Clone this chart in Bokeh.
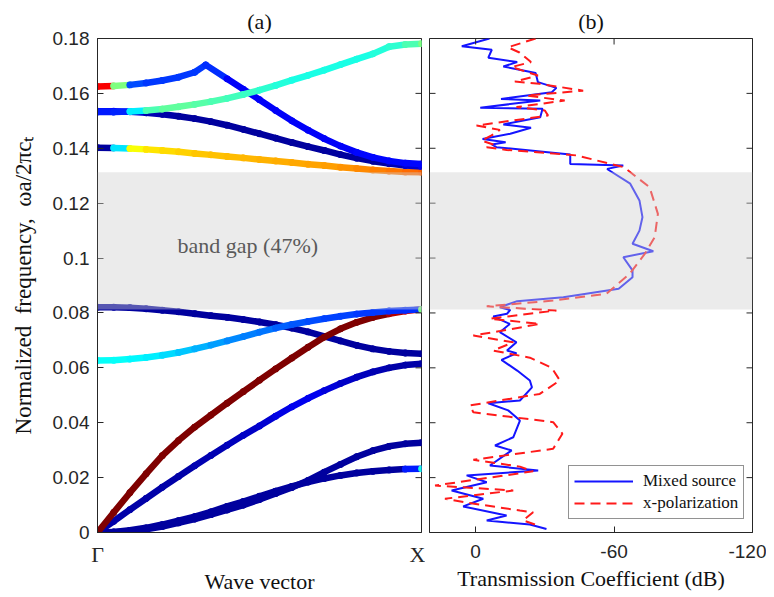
import numpy as np
from bokeh.plotting import figure
from bokeh.layouts import row
from bokeh.models import Range1d, FixedTicker, LinearAxis, BoxAnnotation, Label, Legend
from bokeh.embed import file_html
from bokeh.resources import INLINE

# ---------------- data: panel (a) band structure ----------------
K = [0, 0.05, 0.1, 0.15, 0.2, 0.25, 0.3, 0.35, 0.4, 0.45, 0.5,
     0.55, 0.6, 0.65, 0.7, 0.75, 0.8, 0.85, 0.9, 0.95, 1.0]
B1 = [0, 0.0002, 0.0008, 0.0017, 0.0029, 0.0043, 0.0058, 0.0075, 0.0095, 0.0113, 0.0132,
      0.0151, 0.0168, 0.0184, 0.0197, 0.0208, 0.0217, 0.0223, 0.0228, 0.0231, 0.0232]
C1 = [0.03] * 19 + [0.15, 0.40]
B2 = [0, 0.0001, 0.0005, 0.0012, 0.0022, 0.0035, 0.0049, 0.0065, 0.0082, 0.0100, 0.0120,
      0.0142, 0.0164, 0.0190, 0.0220, 0.0248, 0.0276, 0.0298, 0.0314, 0.0323, 0.0327]
C2 = [0.03] * 21
B3 = [0, 0.0041, 0.0083, 0.0124, 0.0165, 0.0204, 0.0243, 0.0281, 0.0318, 0.0354, 0.0388,
      0.0424, 0.0458, 0.0489, 0.0517, 0.0543, 0.0566, 0.0585, 0.0600, 0.0610, 0.0615]
C3 = [0.04, 0.04, 0.04, 0.04, 0.04, 0.04, 0.05, 0.05, 0.06, 0.07, 0.08,
      0.10, 0.11, 0.11, 0.09, 0.07, 0.06, 0.05, 0.04, 0.04, 0.04]
B4 = [0, 0.0073, 0.0145, 0.0214, 0.0280, 0.0335, 0.0384, 0.0428, 0.0471, 0.0513, 0.0555,
      0.0596, 0.0636, 0.0675, 0.0712, 0.0742, 0.0766, 0.0784, 0.0797, 0.0807, 0.0813]
C4 = [1.0] * 18 + [0.95, 0.9, 0.8]
B5 = [0.0821, 0.0821, 0.0819, 0.0815, 0.0810, 0.0804, 0.0797, 0.0790, 0.0784, 0.0776, 0.0767,
      0.0757, 0.0745, 0.0731, 0.0715, 0.0698, 0.0682, 0.0669, 0.0660, 0.0654, 0.0651]
C5 = [0.03] * 21
B6 = [0.0627, 0.0628, 0.0632, 0.0638, 0.0646, 0.0656, 0.0669, 0.0683, 0.0698, 0.0714, 0.0730,
      0.0745, 0.0758, 0.0769, 0.0779, 0.0788, 0.0796, 0.0802, 0.0807, 0.0810, 0.0813]
C6 = [0.38, 0.38, 0.37, 0.36, 0.34, 0.32, 0.30, 0.28, 0.26, 0.25, 0.24,
      0.22, 0.21, 0.20, 0.19, 0.19, 0.18, 0.18, 0.17, 0.17, 0.50]
B7 = [0.1402, 0.1401, 0.1399, 0.1396, 0.1392, 0.1387, 0.1381, 0.1376, 0.1370, 0.1365, 0.1359,
      0.1354, 0.1348, 0.1342, 0.1337, 0.1331, 0.1326, 0.1321, 0.1317, 0.1314, 0.1313]
C7 = [0.03, 0.35, 0.62, 0.65, 0.66, 0.67, 0.68, 0.685, 0.69, 0.695, 0.70,
      0.705, 0.71, 0.715, 0.72, 0.73, 0.74, 0.75, 0.76, 0.77, 0.78]
B8 = [0.1535, 0.1535, 0.1533, 0.1529, 0.1524, 0.1517, 0.1508, 0.1497, 0.1484, 0.1469, 0.1453,
      0.1437, 0.1421, 0.1406, 0.1392, 0.1377, 0.1364, 0.1353, 0.1344, 0.1337, 0.1334]
C8 = [0.14, 0.13, 0.08, 0.05, 0.04] + [0.03] * 13 + [0.05, 0.08, 0.12]
B9 = [0.1532, 0.1532, 0.1534, 0.1538, 0.1543, 0.1551, 0.1560, 0.1570, 0.1582, 0.1596, 0.1612,
      0.1629, 0.1648, 0.1666, 0.1685, 0.1705, 0.1725, 0.1744, 0.1770, 0.1778, 0.1781]
C9 = [0.15, 0.16, 0.36, 0.45, 0.47, 0.47, 0.46, 0.45, 0.44, 0.43, 0.42,
      0.41, 0.40, 0.40, 0.40, 0.40, 0.40, 0.41, 0.42, 0.45, 0.50]
K10 = [0, 0.05, 0.1, 0.15, 0.2, 0.25, 0.3, 0.334, 0.4, 0.45, 0.5,
       0.55, 0.6, 0.65, 0.7, 0.75, 0.8, 0.85, 0.9, 0.95, 1.0]
B10 = [0.1625, 0.1627, 0.1631, 0.1638, 0.1647, 0.1659, 0.1677, 0.1704, 0.1653, 0.1615, 0.1577,
       0.1538, 0.1500, 0.1466, 0.1435, 0.1408, 0.1385, 0.1367, 0.1354, 0.1346, 0.1343]
C10 = [0.88, 0.50, 0.20, 0.18, 0.18, 0.18, 0.18, 0.17, 0.12, 0.12, 0.12,
       0.12, 0.12, 0.12, 0.12, 0.12, 0.13, 0.13, 0.13, 0.13, 0.13]

GAP = [0.0813, 0.1313]
YTICKS = [0, 0.02, 0.04, 0.06, 0.08, 0.1, 0.12, 0.14, 0.16, 0.18]
YLABELS = ["0", "0.02", "0.04", "0.06", "0.08", "0.1", "0.12", "0.14", "0.16", "0.18"]
KTICKS = [0, 1]
KLABELS = ["\u0393", "X"]

# ---------------- data: panel (b) transmission ----------------
MIX_F = [0.1800, 0.1772, 0.1759, 0.1730, 0.1714, 0.1698, 0.1686, 0.1674, 0.1641, 0.1620, 0.1604, 0.1580,
         0.1574, 0.1548, 0.1544, 0.1513, 0.1487, 0.1475, 0.1453, 0.1434, 0.1422, 0.1414, 0.1404, 0.1377,
         0.1343, 0.1337, 0.1325, 0.1319, 0.1271, 0.1210, 0.1149, 0.1100, 0.1052, 0.1025, 0.1003, 0.0955,
         0.0930, 0.0888, 0.0857, 0.0843, 0.0821, 0.0811, 0.0797, 0.0787, 0.0760, 0.0730, 0.0693, 0.0663,
         0.0653, 0.0629, 0.0590, 0.0554, 0.0529, 0.0481, 0.0471, 0.0445, 0.0408, 0.0347, 0.0317, 0.0299,
         0.0244, 0.0226, 0.0208, 0.0183, 0.0153, 0.0123, 0.0095, 0.0062, 0.0044, 0.0029, 0.0013]
MIX_DB = [-6, 6, -7, -5.5, -18, -12, -19, -26, -27, -35, -33, -11,
          -28, -2, -29, -28, -12, -24, -15, -3, -13, -7, -9, -41,
          -41, -64, -57, -58, -67, -71, -72.3, -71, -68, -77, -64, -68,
          -68, -62, -38, -18, -10.5, -15, -13.6, -7.6, -14.8, -10.5, -17.7, -13.6,
          -17.7, -11.2, -18, -23.5, -24.4, -19.2, -5.5, -14.1, -19.2, -16.3, -8.4, -15.6,
          -6.2, -27.1, 3.9, -4.8, 10.4, -3.3, 5.4, -13.4, -4.8, -23.5, -30.7]
XPOL_F = [0.1800, 0.1768, 0.1749, 0.1714, 0.1696, 0.1665, 0.1643, 0.1635, 0.1610, 0.1592, 0.1574, 0.1550,
          0.1538, 0.1519, 0.1483, 0.1467, 0.1447, 0.1428, 0.1414, 0.1404, 0.1394, 0.1374, 0.1331, 0.1258,
          0.1161, 0.1076, 0.1015, 0.0943, 0.0870, 0.0845, 0.0824, 0.0809, 0.0779, 0.0760, 0.0734, 0.0718,
          0.0693, 0.0663, 0.0637, 0.0600, 0.0554, 0.0505, 0.0463, 0.0438, 0.0402, 0.0360, 0.0305, 0.0265,
          0.0240, 0.0223, 0.0171, 0.0153, 0.0123, 0.0110, 0.0080, 0.0074, 0.0044, 0.0029]
XPOL_DB = [-26, -14, -19, -24, -15.6, -27, -17, -27.6, -46.6, -22, -38.6, -17.7,
           -30, -31.4, -0.4, -10.5, -6.9, -2.6, -7.6, -4.8, -13.4, -43.7, -64.3, -75.4,
           -79, -77.6, -73.3, -66.8, -56.7, -33.6, -4.8, -35, -6.2, -27.8, -10.5, 1,
           -16.3, -7.6, -23.5, -33, -36.5, -27.8, 2.5, 1, -33.6, -37.6, -33.6, 1,
           -19.2, -24.9, 17.6, -16.3, 13.3, 4.6, -19.2, -24.9, -20.6, -25.7]
DBTICKS = [0, -60, -120]
DBLABELS = ["0", "-60", "-120"]


def jet(v):
    v = min(max(v, 0.0), 1.0)
    r = float(np.clip(min(4 * v - 1.5, -4 * v + 4.5), 0, 1))
    g = float(np.clip(min(4 * v - 0.5, -4 * v + 3.5), 0, 1))
    b = float(np.clip(min(4 * v + 0.5, -4 * v + 2.5), 0, 1))
    return "#%02x%02x%02x" % (int(r * 255), int(g * 255), int(b * 255))


SERIF = "Liberation Serif"
SANS = "Liberation Sans"
AX = "#262626"
TXT = "#111111"
NB = "\u00a0"


def style_axis(ax, size="19px", font=SANS):
    ax.axis_line_color = AX
    ax.major_tick_line_color = AX
    ax.minor_tick_line_color = None
    ax.major_tick_in = 6
    ax.major_tick_out = 0
    ax.major_label_text_color = AX
    ax.major_label_text_font = font
    ax.major_label_text_font_size = size


def style_label(ax, text, standoff, size="22px"):
    ax.axis_label = text
    ax.axis_label_text_font = SERIF
    ax.axis_label_text_font_size = size
    ax.axis_label_text_font_style = "normal"
    ax.axis_label_text_color = TXT
    ax.axis_label_standoff = standoff


def style_fig(p):
    p.grid.visible = False
    p.outline_line_color = AX
    p.title.align = "center"
    p.title.text_font = SERIF
    p.title.text_font_size = "22px"
    p.title.text_font_style = "normal"
    p.title.text_color = TXT


def inner_ticks(p, xs, ys, vertical=False):
    # tick marks on the inner box sides (half of each dash is clipped by the frame)
    p.scatter(x=xs, y=ys, marker="dash", size=12, line_color=AX, line_width=1,
              angle=(np.pi / 2 if vertical else 0))


# ---------------- panel (a) ----------------
p1 = figure(width=425, height=596, x_range=Range1d(0, 1), y_range=Range1d(0, 0.18),
            output_backend="svg", toolbar_location=None, x_axis_location=None, y_axis_location=None,
            min_border_left=97, min_border_right=4, min_border_top=38, min_border_bottom=64,
            title="(a)")
style_fig(p1)

yl = LinearAxis(ticker=FixedTicker(ticks=YTICKS),
                major_label_overrides={t: s for t, s in zip(YTICKS, YLABELS)})
style_axis(yl)
yl.major_label_standoff = 8
style_label(yl, "Normalized" + NB * 2 + "frequency," + NB * 2 + "\u03c9a/2\u03c0c\u209c", 14, "23px")
p1.add_layout(yl, "left")

xb = LinearAxis(ticker=FixedTicker(ticks=KTICKS),
                major_label_overrides={t: s for t, s in zip(KTICKS, KLABELS)})
style_axis(xb, size="22px", font=SERIF)
xb.major_tick_in = 0
xb.major_label_standoff = 9
style_label(xb, "Wave vector", -1)
p1.add_layout(xb, "below")

bands = [(K, B1, C1), (K, B2, C2), (K, B3, C3), (K, B5, C5), (K, B4, C4), (K, B6, C6),
         (K, B7, C7), (K, B8, C8), (K10, B10, C10), (K, B9, C9)]
for kk, ff, cc in bands:
    cols = [jet(c) for c in cc]
    p1.segment(x0=kk[:-1], y0=ff[:-1], x1=kk[1:], y1=ff[1:], line_color=cols[:-1],
               line_width=6.5, line_cap="round")
    p1.scatter(x=kk, y=ff, size=6.8, fill_color=cols, line_color=None)

inner_ticks(p1, [p1.x_range.end] * len(YTICKS), YTICKS)

p1.add_layout(BoxAnnotation(bottom=GAP[0], top=GAP[1], fill_color="#cfcfcf", fill_alpha=0.42,
                            line_color=None))
p1.add_layout(Label(x=0.464, y=0.1045, text="band gap (47%)", text_font=SERIF,
                    text_font_size="22px", text_color="#5a5a5a", text_align="center",
                    text_baseline="middle"))

# ---------------- panel (b) ----------------
p2 = figure(width=341, height=596, x_range=Range1d(20, -120), y_range=Range1d(0, 0.18),
            output_backend="svg", toolbar_location=None, x_axis_location=None, y_axis_location=None,
            min_border_left=4, min_border_right=14, min_border_top=38, min_border_bottom=64,
            title="(b)")
style_fig(p2)

xb2 = LinearAxis(ticker=FixedTicker(ticks=DBTICKS),
                 major_label_overrides={t: s for t, s in zip(DBTICKS, DBLABELS)})
style_axis(xb2)
xb2.major_label_standoff = 12
style_label(xb2, "Transmission Coefficient (dB)", 5)
p2.add_layout(xb2, "below")

r_mix = p2.line(x=MIX_DB, y=MIX_F, line_color="#1414ff", line_width=2)
r_x = p2.line(x=XPOL_DB, y=XPOL_F, line_color="#ff1a1a", line_width=2, line_dash="10 6")

inner_ticks(p2, [p2.x_range.start] * len(YTICKS), YTICKS)
inner_ticks(p2, [p2.x_range.end] * len(YTICKS), YTICKS)
inner_ticks(p2, DBTICKS, [p2.y_range.end] * len(DBTICKS), vertical=True)

p2.add_layout(BoxAnnotation(bottom=GAP[0], top=GAP[1], fill_color="#cfcfcf", fill_alpha=0.42,
                            line_color=None))

leg = Legend(items=[("Mixed source", [r_mix]), ("x-polarization", [r_x])], location=(139, 13))
leg.border_line_color = AX
leg.border_line_width = 1
leg.background_fill_color = "white"
leg.background_fill_alpha = 1
leg.label_text_font = SERIF
leg.label_text_font_size = "17px"
leg.label_text_color = TXT
leg.glyph_width = 59
leg.glyph_height = 18
leg.label_height = 18
leg.label_standoff = 10
leg.padding = 5
leg.spacing = 2
leg.margin = 0
p2.add_layout(leg)

layout = row(p1, p2)
open("out.html", "w").write(file_html(layout, INLINE))
